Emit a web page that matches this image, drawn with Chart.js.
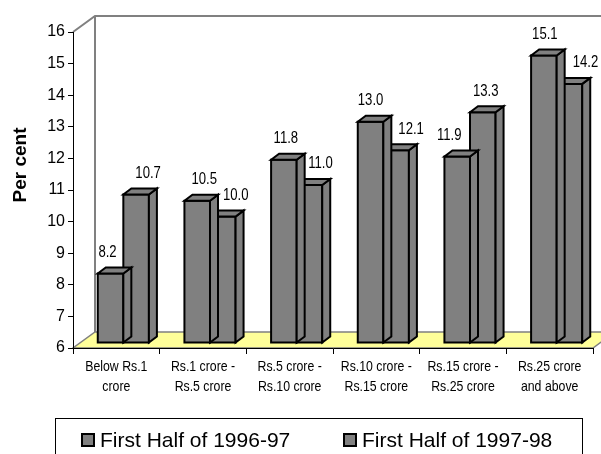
<!DOCTYPE html>
<html>
<head>
<meta charset="utf-8">
<script src="https://cdn.jsdelivr.net/npm/chart.js@4/dist/chart.umd.min.js"></script>
<style>
  html, body { margin: 0; padding: 0; background: #ffffff; }
  canvas { display: block; }
</style>
</head>
<body>
<canvas id="chart" width="601" height="454"></canvas>
<script>
// Turnover size classes
const categories = [
  ["Below Rs.1", "crore"],
  ["Rs.1 crore -", "Rs.5 crore"],
  ["Rs.5 crore -", "Rs.10 crore"],
  ["Rs.10 crore -", "Rs.15 crore"],
  ["Rs.15 crore -", "Rs.25 crore"],
  ["Rs.25 crore", "and above"]
];
// Per cent values for each half-year
const firstHalf9697 = [8.2, 10.5, 11.8, 13.0, 11.9, 15.1];
const firstHalf9798 = [10.7, 10.0, 11.0, 12.1, 13.3, 14.2];
const seriesNames = ["First Half of 1996-97", "First Half of 1997-98"];
// Value axis range and step
const yMin = 6;
const yMax = 16;
const yStep = 1;

const SANS = '"Liberation Sans", Arial, sans-serif';
const NARROW_SCALE = 0.82;          // horizontal squeeze for the condensed labels
const BAR_GREY = '#808080';
const WALL_GREY = '#808080';
const FLOOR = '#FFFF99';

// oblique projection offsets
const WALL_DX = 22, WALL_DY = 16;   // full depth of the plot box
const BAR_FX = 7, BAR_FY = 5;       // bars sit this far behind the front plane
const BAR_DX = 8, BAR_DY = 6;       // thickness of each column

// horizontal nudges for value labels (px), per series and bar
const labelNudge = [
  [-3, 7, 2, 0, -8, 1],
  [12, 13, 11, 15, 3, 16]
];

function narrowText(ctx, text, x, y) {
  ctx.save();
  ctx.translate(x, y);
  ctx.scale(NARROW_SCALE, 1);
  ctx.fillText(text, 0, 0);
  ctx.restore();
}

const wallsPlugin = {
  id: 'walls3d',
  beforeDraw(chart) {
    const { ctx, chartArea: a } = chart;
    ctx.save();
    // floor
    ctx.beginPath();
    ctx.moveTo(a.left, a.bottom);
    ctx.lineTo(a.right, a.bottom);
    ctx.lineTo(a.right + WALL_DX, a.bottom - WALL_DY);
    ctx.lineTo(a.left + WALL_DX, a.bottom - WALL_DY);
    ctx.closePath();
    ctx.fillStyle = FLOOR;
    ctx.fill();
    ctx.strokeStyle = WALL_GREY;
    ctx.lineWidth = 1.5;
    ctx.stroke();
    // back wall and side wall edges
    ctx.lineWidth = 2;
    ctx.beginPath();
    ctx.moveTo(a.left, a.top);
    ctx.lineTo(a.left + WALL_DX, a.top - WALL_DY);
    ctx.lineTo(a.right + WALL_DX, a.top - WALL_DY);
    ctx.moveTo(a.left + WALL_DX, a.top - WALL_DY);
    ctx.lineTo(a.left + WALL_DX, a.bottom - WALL_DY);
    ctx.stroke();
    ctx.restore();
  }
};

const barsPlugin = {
  id: 'bars3d',
  beforeDatasetsDraw(chart) {
    chart.ctx.save();
    chart.ctx.translate(BAR_FX, -BAR_FY);
  },
  afterDatasetDraw(chart, args) {
    const ctx = chart.ctx;
    ctx.save();
    ctx.fillStyle = BAR_GREY;
    ctx.strokeStyle = '#000';
    ctx.lineWidth = 2;
    ctx.lineJoin = 'miter';
    args.meta.data.forEach(bar => {
      const { x, y, base, width } = bar.getProps(['x', 'y', 'base', 'width'], true);
      const l = x - width / 2, r = x + width / 2;
      // front outline
      ctx.strokeRect(l, y, width, base - y);
      // right side
      ctx.beginPath();
      ctx.moveTo(r, y);
      ctx.lineTo(r + BAR_DX, y - BAR_DY);
      ctx.lineTo(r + BAR_DX, base - BAR_DY);
      ctx.lineTo(r, base);
      ctx.closePath();
      ctx.fill();
      ctx.stroke();
      // top
      ctx.beginPath();
      ctx.moveTo(l, y);
      ctx.lineTo(l + BAR_DX, y - BAR_DY);
      ctx.lineTo(r + BAR_DX, y - BAR_DY);
      ctx.lineTo(r, y);
      ctx.closePath();
      ctx.fill();
      ctx.stroke();
    });
    ctx.restore();
  },
  afterDatasetsDraw(chart) {
    chart.ctx.restore();
  }
};

const annotationsPlugin = {
  id: 'annotations',
  afterDraw(chart) {
    const ctx = chart.ctx;
    const xScale = chart.scales.x;
    ctx.save();
    ctx.fillStyle = '#000';
    ctx.textAlign = 'center';
    ctx.textBaseline = 'middle';
    // value labels
    ctx.font = '16px ' + SANS;
    chart.data.datasets.forEach((ds, i) => {
      chart.getDatasetMeta(i).data.forEach((bar, j) => {
        const v = ds.data[j];
        narrowText(ctx, v.toFixed(1), bar.x + BAR_FX + labelNudge[i][j], bar.y - BAR_FY - 21);
      });
    });
    // category labels under the front axis
    ctx.font = '15px ' + SANS;
    chart.data.labels.forEach((lines, i) => {
      const cx = xScale.getPixelForValue(i);
      lines.forEach((line, k) => {
        narrowText(ctx, line, cx, xScale.top + 19 + k * 20);
      });
    });
    // axis title
    ctx.save();
    ctx.translate(21, 165);
    ctx.rotate(-Math.PI / 2);
    ctx.font = 'bold 19px ' + SANS;
    ctx.fillText('Per cent', 0, 0);
    ctx.restore();
    // legend
    ctx.strokeStyle = '#000';
    ctx.lineWidth = 1;
    ctx.strokeRect(55.5, 418.5, 527, 60);
    const items = [{ x: 81 }, { x: 343 }];
    ctx.font = '21px ' + SANS;
    ctx.textAlign = 'left';
    chart.data.datasets.forEach((ds, i) => {
      const mx = items[i].x;
      ctx.fillStyle = ds.backgroundColor;
      ctx.fillRect(mx, 433, 14, 14);
      ctx.lineWidth = 2;
      ctx.strokeRect(mx + 1, 434, 12, 12);
      ctx.fillStyle = '#000';
      ctx.fillText(ds.label, mx + 19, 441);
    });
    ctx.restore();
  }
};

new Chart(document.getElementById('chart'), {
  type: 'bar',
  data: {
    labels: categories,
    datasets: [
      { label: seriesNames[0], data: firstHalf9697, backgroundColor: BAR_GREY, borderWidth: 0,
        base: yMin, categoryPercentage: 0.59, barPercentage: 1.0, clip: false },
      { label: seriesNames[1], data: firstHalf9798, backgroundColor: BAR_GREY, borderWidth: 0,
        base: yMin, categoryPercentage: 0.59, barPercentage: 1.0, clip: false }
    ]
  },
  options: {
    responsive: false,
    animation: false,
    devicePixelRatio: 1,
    layout: { padding: { left: 0, right: 8, top: 32, bottom: 0 } },
    plugins: { legend: { display: false }, tooltip: { enabled: false } },
    scales: {
      x: {
        offset: true,
        grid: { offset: true, drawOnChartArea: false, drawTicks: true, tickLength: 6, color: '#000' },
        border: { display: true, color: '#000', width: 1 },
        ticks: { display: false },
        afterFit(scale) { scale.height = 106; }
      },
      y: {
        min: yMin, max: yMax,
        grid: { drawOnChartArea: false, drawTicks: true, tickLength: 5, color: '#000' },
        border: { display: true, color: '#000', width: 1 },
        ticks: { stepSize: yStep, color: '#000', font: { family: SANS, size: 16 }, padding: 3 },
        afterFit(scale) { scale.width = 73; }
      }
    }
  },
  plugins: [wallsPlugin, barsPlugin, annotationsPlugin]
});
</script>
</body>
</html>
